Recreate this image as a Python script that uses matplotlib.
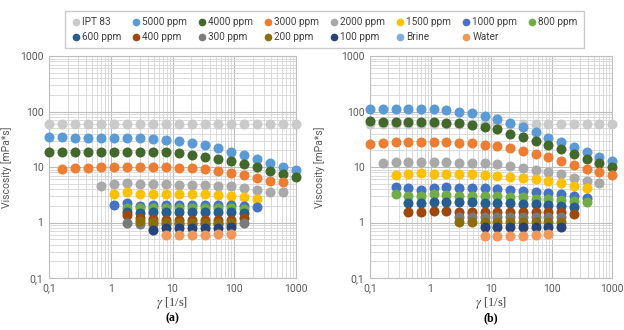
import numpy as np
import matplotlib
matplotlib.use('Agg')
import matplotlib.pyplot as plt
from matplotlib.ticker import FixedLocator, LogLocator, NullFormatter, FuncFormatter
from matplotlib.lines import Line2D

plt.rcParams['font.family'] = ['Roboto', 'DejaVu Sans']
plt.rcParams['mathtext.fontset'] = 'stix'

### Shear rates [1/s] (same grid for both panels)
gamma = [0.1, 0.162, 0.264, 0.428, 0.695, 1.13, 1.83, 2.98, 4.83, 7.85,
         12.7, 20.7, 33.6, 54.6, 88.6, 144, 234, 379, 616, 1000]
_ = None

names = ['IPT 83', '5000 ppm', '4000 ppm', '3000 ppm', '2000 ppm', '1500 ppm',
         '1000 ppm', '800 ppm', '600 ppm', '400 ppm', '300 ppm', '200 ppm',
         '100 ppm', 'Brine', 'Water']
colors = ['#CACACA', '#5B9BD5', '#43682B', '#ED7D31', '#A9A9A9', '#FFC000',
          '#4472C4', '#70AD47', '#255E91', '#9E480E', '#7A7A7A', '#8C6D0A',
          '#264478', '#7CAFDD', '#F1975A']

### Panel (a) viscosities [mPa*s], None = no point
a_ipt = [60] * 20
a_5000 = [34.5, 34.5, 33.9, 33.6, 33.6, 33.9, 33.6, 33, 32.2, 30.9,
          29.6, 26.9, 24.8, 21.9, 19, 16.6, 14.1, 11.8, 10, 8.7]
a_4000 = [18.6, 18.6, 18.6, 18.6, 18.6, 18.6, 18.6, 18.6, 18.6, 18.6,
          17.6, 16.4, 15.3, 14.1, 12.6, 11.3, 9.8, 8.6, 7.4, 6.6]
a_3000 = [_, 9.3, 9.6, 9.7, 9.8, 10.1, 10, 10, 10, 9.8,
          9.7, 9.4, 9.1, 8.3, 7.7, 7.1, 6.4, 5.7, 5.3, _]
a_2000 = [_, _, _, _, 4.6, 4.9, 5.1, 4.9, 4.9, 4.9,
          4.8, 4.8, 4.7, 4.6, 4.5, 4.1, 3.9, 3.5, 3.5, _]
a_1500 = [_, _, _, _, _, 3.3, 3.5, 3.3, 3.3, 3.3,
          3.3, 3.3, 3.2, 3.1, 3.05, 2.9, 2.7, _, _, _]
a_1000 = [_, _, _, _, _, 2.1, 2.2, 2.0, 2.05, 2.05,
          2.05, 2.05, 2.05, 2.05, 2.05, 2.0, 1.9, _, _, _]
a_800 = [_, _, _, _, _, _, 1.85, 1.8, 1.82, 1.82,
         1.82, 1.82, 1.82, 1.82, 1.82, 1.75, _, _, _, _]
a_600 = [_, _, _, _, _, _, 1.55, 1.5, 1.52, 1.52,
         1.52, 1.52, 1.52, 1.52, 1.52, 1.48, _, _, _, _]
a_400 = [_, _, _, _, _, _, 1.35, 1.22, 1.15, 1.13,
         1.13, 1.13, 1.13, 1.13, 1.13, 1.2, _, _, _, _]
a_300 = [_, _, _, _, _, _, 0.98, 0.95, 0.95, 0.95,
         0.93, 0.93, 0.93, 0.93, 0.93, 0.98, _, _, _, _]
a_200 = [_, _, _, _, _, _, _, 1.05, 1.03, 1.0,
         1.0, 1.0, 1.0, 1.0, 1.0, _, _, _, _, _]
a_100 = [_, _, _, _, _, _, _, _, 0.74, 0.8,
         0.8, 0.8, 0.8, 0.8, 0.82, _, _, _, _, _]
a_brine = [_] * 20
a_water = [_, _, _, _, _, _, _, _, _, 0.6,
           0.6, 0.59, 0.59, 0.61, 0.63, _, _, _, _, _]

### Panel (b)
b_ipt = [59] * 20
b_5000 = [113, 113, 113, 111, 111, 110, 105, 100, 93, 82,
          72, 61, 52, 42, 34, 28, 22.8, 18.5, 15.3, 12.6]
b_4000 = [67.8, 66, 65, 65, 65, 64, 62, 61, 56, 51.5,
          47.5, 40, 35, 29.6, 24.8, 20.7, 16.8, 13.9, 11.9, 10.1]
b_3000 = [25.8, 26.6, 28, 28.4, 28, 28, 27.7, 27.3, 26.6, 25,
          23.5, 21.6, 19.6, 17.1, 14.9, 12.9, 10.8, 9.2, 8.0, 7.1]
b_2000 = [_, 11.9, 12.4, 12.4, 12.1, 12.1, 12.1, 11.9, 11.9, 11.6,
          11.1, 10.4, 9.7, 9.0, 8.2, 7.4, 6.4, 5.65, 5.1, _]
b_1500 = [_, _, 7.15, 7.45, 7.65, 7.35, 7.35, 7.35, 7.35, 7.15,
          6.95, 6.7, 6.4, 6.05, 5.65, 5.2, 4.6, 4.2, _, _]
b_1000 = [_, _, 4.4, 4.1, 3.85, 4.1, 4.3, 4.1, 4.2, 4.1,
          3.95, 3.85, 3.7, 3.6, 3.4, 3.25, 3.0, 2.8, _, _]
b_800 = [_, _, 3.2, 3.05, 3.05, 3.2, 3.1, 3.05, 3.05, 3.05,
         3.0, 2.9, 2.85, 2.7, 2.65, 2.55, 2.45, 2.35, _, _]
b_600 = [_, _, _, 2.2, 2.2, 2.37, 2.3, 2.3, 2.3, 2.27,
         2.2, 2.2, 2.15, 2.12, 2.06, 1.98, 1.88, _, _, _]
b_400 = [_, _, _, 1.57, 1.57, 1.61, 1.63, 1.57, 1.57, 1.57,
         1.57, 1.52, 1.52, 1.52, 1.52, 1.52, 1.42, _, _, _]
b_300 = [_, _, _, _, _, _, _, 1.28, 1.28, 1.28,
         1.28, 1.28, 1.28, 1.28, 1.28, 1.28, _, _, _, _]
b_200 = [_, _, _, _, _, _, _, 1.03, 1.03, 1.03,
         1.03, 1.03, 1.03, 1.03, 1.03, 1.03, _, _, _, _]
b_100 = [_, _, _, _, _, _, _, _, _, 0.83,
         0.83, 0.83, 0.83, 0.83, 0.83, 0.83, _, _, _, _]
b_brine = [_] * 20
b_water = [_, _, _, _, _, _, _, _, _, 0.58,
           0.58, 0.58, 0.58, 0.6, 0.61, _, _, _, _, _]

series_a = [a_ipt, a_5000, a_4000, a_3000, a_2000, a_1500, a_1000, a_800,
            a_600, a_400, a_300, a_200, a_100, a_brine, a_water]
series_b = [b_ipt, b_5000, b_4000, b_3000, b_2000, b_1500, b_1000, b_800,
            b_600, b_400, b_300, b_200, b_100, b_brine, b_water]

### Figure
fig = plt.figure(figsize=(6.24, 3.3), dpi=100)
ax_a = fig.add_axes([49/624, 1-278/330, 247/624, 222/330])
ax_b = fig.add_axes([370/624, 1-278/330, 242/624, 222/330])

def fmt(v, pos):
    return ('%g' % v).replace('.', ',')

for ax, series, tag, ylx in [(ax_a, series_a, '(a)', -0.15), (ax_b, series_b, '(b)', -0.185)]:
    ax.set_xscale('log')
    ax.set_yscale('log')
    ax.set_xlim(0.1, 1000)
    ax.set_ylim(0.1, 1000)
    for axis in (ax.xaxis, ax.yaxis):
        axis.set_major_locator(FixedLocator([0.1, 1, 10, 100, 1000]))
        axis.set_major_formatter(FuncFormatter(fmt))
        axis.set_minor_locator(LogLocator(base=10, subs=np.arange(2, 10)))
        axis.set_minor_formatter(NullFormatter())
    ax.grid(True, which='major', color='#bdbdbd', lw=0.8)
    ax.grid(True, which='minor', color='#d6d6d6', lw=0.6)
    ax.set_axisbelow(True)
    for s in ax.spines.values():
        s.set_color('#bfbfbf')
        s.set_linewidth(0.8)
    ax.tick_params(which='both', length=0, labelsize=7.5, colors='#595959', pad=4)
    for vals, c in zip(series, colors):
        ax.scatter(gamma, np.array(vals, dtype=float), s=52, color=c,
                   linewidths=0, zorder=3, clip_on=False)
    ax.set_ylabel('Viscosity [mPa*s]', fontsize=7.5, color='#595959')
    ax.yaxis.set_label_coords(ylx, 0.5)
    ax.set_xlabel(r'$\gamma$ [1/s]', fontsize=9, color='#404040',
                  family='Liberation Serif', labelpad=1)
    pos = ax.get_position()
    fig.text(pos.x0 + pos.width/2, 1-318/330, tag, ha='center', va='center',
             fontsize=8.5, fontweight='bold', family='Liberation Serif')

### Legend (reordered so it fills row by row, 8 per row)
handles = [Line2D([], [], ls='', marker='o', ms=4.5, mfc=c, mec=c) for c in colors]
order = []
for j in range(8):
    order.append(j)
    if j + 8 < len(names):
        order.append(j + 8)
fig.legend([handles[i] for i in order], [names[i] for i in order], ncol=8,
           loc='upper left', bbox_to_anchor=(60/624, 1-6/330),
           frameon=True, fancybox=False, edgecolor='#bfbfbf', fontsize=7.2,
           handletextpad=0.1, columnspacing=1.0, handlelength=1.0,
           borderpad=0.6, labelspacing=0.5, labelcolor='#404040')

fig.savefig('out.png', dpi=100)
